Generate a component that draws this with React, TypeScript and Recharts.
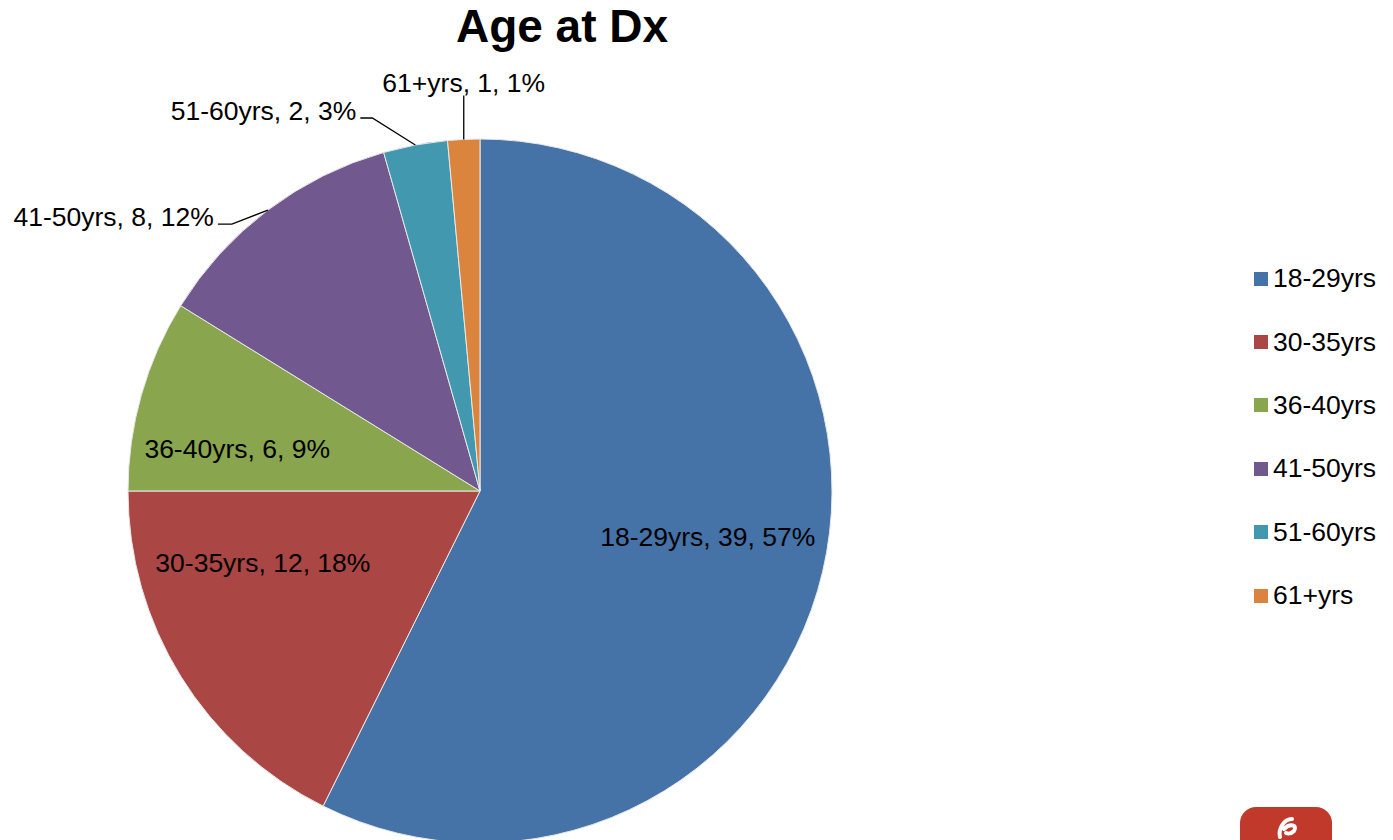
import { PieChart, Pie, Cell } from "recharts";

const categories = ["18-29yrs", "30-35yrs", "36-40yrs", "41-50yrs", "51-60yrs", "61+yrs"];
const counts = [39, 12, 6, 8, 2, 1];
const percents = ["57%", "18%", "9%", "12%", "3%", "1%"];

const COLORS = ["#4572A7", "#AA4643", "#89A54E", "#71588F", "#4198AF", "#DB843D"];

const data = categories.map((name, i) => ({ name, value: counts[i], pct: percents[i] }));

const FONT = "'Liberation Sans', Arial, sans-serif";
const RAD = Math.PI / 180;

// label placement per slice: inside ones use angle/radius, outside ones use a leader elbow
const LABEL_STYLE = [
  { inside: true, angle: -11.4, r: 0.66 },
  { inside: true, angle: -161.6, r: 0.65 },
  { inside: true, angle: 170.2, r: 0.7 },
  { inside: false, elbow: [-36, 14], tail: -14 },
  { inside: false, elbow: [-43, -27], tail: -12 },
  { inside: false, elbow: [0, -44], tail: 0 },
];

function renderLabel(props: any) {
  const { cx, cy, midAngle, outerRadius, index, payload } = props;
  const s = LABEL_STYLE[index];
  const text = `${payload.name}, ${payload.value}, ${payload.pct}`;
  if (s.inside) {
    const r = outerRadius * (s.r as number);
    const x = cx + r * Math.cos(-(s.angle as number) * RAD);
    const y = cy + r * Math.sin(-(s.angle as number) * RAD);
    return (
      <text key={`l${index}`} x={x} y={y} textAnchor="middle" dominantBaseline="central" fontSize={26.5} fontFamily={FONT} fill="#000">
        {text}
      </text>
    );
  }
  const x0 = cx + outerRadius * Math.cos(-midAngle * RAD);
  const y0 = cy + outerRadius * Math.sin(-midAngle * RAD);
  const [ex, ey] = s.elbow as number[];
  const x1 = x0 + ex;
  const y1 = y0 + ey;
  const x2 = x1 + (s.tail as number);
  const vertical = s.tail === 0;
  return (
    <g key={`l${index}`}>
      <polyline points={`${x0},${y0} ${x1},${y1} ${x2},${y1}`} fill="none" stroke="#000" strokeWidth={1.3} />
      <text
        x={vertical ? x2 : x2 - 4}
        y={vertical ? y1 - 12 : y1 - 7}
        textAnchor={vertical ? "middle" : "end"}
        dominantBaseline="central"
        fontSize={26.5}
        fontFamily={FONT}
        fill="#000"
      >
        {text}
      </text>
    </g>
  );
}

export default function App() {
  return (
    <div style={{ position: "absolute", left: 0, top: 0, width: 1393, height: 840, background: "#fff", overflow: "hidden" }}>
      <svg style={{ position: "absolute", left: 0, top: 0 }} width={1124} height={60}>
        <text x={562} y={42} textAnchor="middle" fontFamily={FONT} fontWeight="bold" fontSize={46} fill="#000">
          Age at Dx
        </text>
      </svg>
      <PieChart width={1393} height={840} margin={{ top: 0, right: 0, bottom: 0, left: 0 }}>
        <Pie
          data={data}
          dataKey="value"
          nameKey="name"
          cx={480}
          cy={491}
          outerRadius={352}
          startAngle={90}
          endAngle={-270}
          stroke="#e8e8e8"
          strokeWidth={1}
          label={renderLabel}
          labelLine={false}
          isAnimationActive={false}
        >
          {data.map((d, i) => (
            <Cell key={d.name} fill={COLORS[i]} />
          ))}
        </Pie>
      </PieChart>
      <div style={{ position: "absolute", left: 1254, top: 247, fontFamily: FONT, fontSize: 26.5 }}>
        {categories.map((c, i) => (
          <div key={c} style={{ display: "flex", alignItems: "center", height: 63.4 }}>
            <span style={{ width: 14, height: 14, background: COLORS[i], marginRight: 5, display: "inline-block" }} />
            <span>{c}</span>
          </div>
        ))}
      </div>
      <svg style={{ position: "absolute", left: 1240, top: 807 }} width={92} height={33}>
        <rect x={0} y={0} width={92} height={50} rx={16} fill="#C0392B" />
        <path d="M52 12 C44 12 38 22 40 30 M44 22 C50 16 58 18 54 24 C50 28 46 26 46 26" fill="none" stroke="#fff" strokeWidth={4} strokeLinecap="round" />
      </svg>
    </div>
  );
}
